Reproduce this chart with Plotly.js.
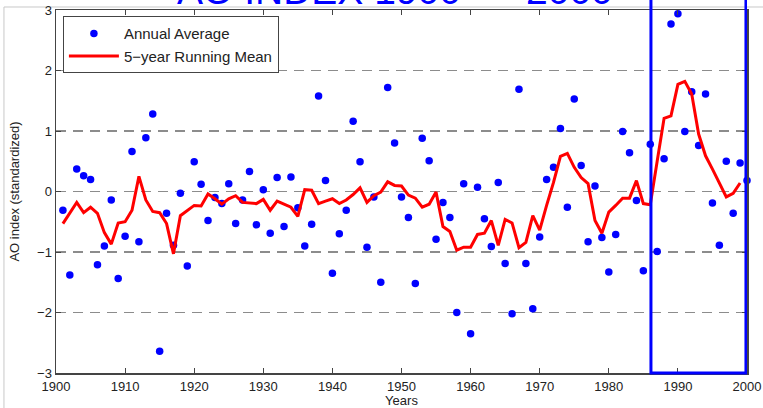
<!DOCTYPE html>
<html><head><meta charset="utf-8">
<script src="https://cdn.plot.ly/plotly-3.0.1.min.js"></script>
<style>html,body{margin:0;padding:0;background:#fff;}#chart{width:763px;height:408px;}</style>
</head><body><div id="chart"></div>
<script>
const years = [1901,1902,1903,1904,1905,1906,1907,1908,1909,1910,
  1911,1912,1913,1914,1915,1916,1917,1918,1919,1920,
  1921,1922,1923,1924,1925,1926,1927,1928,1929,1930,
  1931,1932,1933,1934,1935,1936,1937,1938,1939,1940,
  1941,1942,1943,1944,1945,1946,1947,1948,1949,1950,
  1951,1952,1953,1954,1955,1956,1957,1958,1959,1960,
  1961,1962,1963,1964,1965,1966,1967,1968,1969,1970,
  1971,1972,1973,1974,1975,1976,1977,1978,1979,1980,
  1981,1982,1983,1984,1985,1986,1987,1988,1989,1990,
  1991,1992,1993,1994,1995,1996,1997,1998,1999,2000];
const annualAverage = [-0.31,-1.38,0.37,0.26,0.20,-1.21,-0.90,-0.14,-1.44,-0.74,
  0.66,-0.83,0.89,1.28,-2.64,-0.36,-0.89,-0.03,-1.23,0.49,
  0.12,-0.48,-0.10,-0.20,0.13,-0.53,-0.14,0.33,-0.55,0.03,
  -0.69,0.23,-0.58,0.24,-0.27,-0.90,-0.54,1.58,0.18,-1.35,
  -0.70,-0.31,1.16,0.49,-0.92,-0.09,-1.50,1.72,0.80,-0.09,
  -0.43,-1.52,0.88,0.51,-0.79,-0.18,-0.43,-2.00,0.13,-2.35,
  0.07,-0.45,-0.91,0.15,-1.19,-2.02,1.69,-1.19,-1.94,-0.75,
  0.20,0.40,1.04,-0.26,1.53,0.43,-0.83,0.09,-0.76,-1.33,
  -0.71,0.99,0.64,-0.15,-1.31,0.78,-0.99,0.54,2.77,2.94,
  0.99,1.65,0.76,1.61,-0.19,-0.89,0.50,-0.36,0.47,0.18];
const meanYears = [1901,1902,1903,1904,1905,1906,1907,1908,1909,1910,
  1911,1912,1913,1914,1915,1916,1917,1918,1919,1920,
  1921,1922,1923,1924,1925,1926,1927,1928,1929,1930,
  1931,1932,1933,1934,1935,1936,1937,1938,1939,1940,
  1941,1942,1943,1944,1945,1946,1947,1948,1949,1950,
  1951,1952,1953,1954,1955,1956,1957,1958,1959,1960,
  1961,1962,1963,1964,1965,1966,1967,1968,1969,1970,
  1971,1972,1973,1974,1975,1976,1977,1978,1979,1980,
  1981,1982,1983,1984,1985,1986,1987,1988,1989,1990,
  1991,1992,1993,1994,1995,1996,1997,1998,1999];
const runningMean = [-0.53,-0.35,-0.18,-0.35,-0.26,-0.36,-0.68,-0.87,-0.52,-0.50,
  -0.31,0.25,-0.14,-0.33,-0.35,-0.53,-1.03,-0.40,-0.31,-0.23,
  -0.24,-0.04,-0.12,-0.21,-0.12,-0.07,-0.18,-0.19,-0.20,-0.13,
  -0.31,-0.16,-0.21,-0.26,-0.41,0.03,0.02,-0.20,-0.16,-0.12,
  -0.20,-0.14,-0.05,0.06,-0.18,-0.07,-0.01,0.16,0.10,0.09,
  -0.06,-0.11,-0.26,-0.21,-0.01,-0.58,-0.66,-0.97,-0.92,-0.92,
  -0.71,-0.69,-0.48,-0.89,-0.46,-0.52,-0.93,-0.84,-0.40,-0.64,
  -0.23,0.15,0.58,0.63,0.40,0.23,0.13,-0.48,-0.69,-0.34,
  -0.23,-0.11,-0.11,0.18,-0.20,-0.22,0.50,1.21,1.25,1.77,
  1.82,1.61,0.95,0.59,0.37,0.15,-0.09,-0.03,0.14];
const yTicks = [-3,-2,-1,0,1,2,3];
const xTicks = [1900,1910,1920,1930,1940,1950,1960,1970,1980,1990,2000];
const highlightStart = 1986.1, highlightEnd = 1999.85;

const FONT = 'Liberation Sans, Arial, Helvetica, sans-serif';
const data = [
  {x: years, y: annualAverage, type: 'scatter', mode: 'markers', name: 'Annual Average',
   marker: {color: '#0000ff', size: 7.5}, cliponaxis: false},
  {x: meanYears, y: runningMean, type: 'scatter', mode: 'lines', name: '5\u2212year Running Mean',
   line: {color: '#ff0000', width: 3}}
];
const layout = {
  width: 763, height: 408,
  margin: {l: 56, r: 16, t: 10, b: 35},
  paper_bgcolor: '#fff', plot_bgcolor: '#fff',
  font: {family: FONT, size: 13, color: '#222'},
  showlegend: true,
  legend: {x: 0.01, y: 0.983, xanchor: 'left', yanchor: 'top', bgcolor: '#fff',
    bordercolor: '#444', borderwidth: 1, font: {family: FONT, size: 15, color: '#222'},
    itemwidth: 50, tracegroupgap: 0},
  xaxis: {range: [1900, 2000], tickvals: xTicks, ticks: 'inside', ticklen: 5, tickcolor: '#444',
    showline: true, linecolor: '#444', linewidth: 1.5, mirror: 'ticks', showgrid: false, zeroline: false,
    tickfont: {family: FONT, size: 13, color: '#222'}, ticklabelstandoff: 1,
    title: {text: 'Years', font: {family: FONT, size: 13, color: '#222'}, standoff: 3}},
  yaxis: {range: [-3, 3], tickvals: yTicks, ticks: 'inside', ticklen: 5, tickcolor: '#444',
    showline: true, linecolor: '#444', linewidth: 1.5, mirror: 'ticks',
    showgrid: true, gridcolor: '#8c8c8c', gridwidth: 1.5, griddash: '10px,7px', zeroline: false,
    tickfont: {family: FONT, size: 13, color: '#222'},
    title: {text: 'AO index (standardized)', font: {family: FONT, size: 13, color: '#222'}, standoff: 14}},
  shapes: [
    {type: 'rect', xref: 'paper', yref: 'paper', x0: -0.0753, x1: 1.1, y0: -0.2, y1: 1.0083,
     line: {color: '#c8c8c8', width: 1}, fillcolor: 'rgba(0,0,0,0)', layer: 'below'},
    {type: 'rect', xref: 'x', yref: 'paper', x0: highlightStart, x1: highlightEnd, y0: 0, y1: 1.2,
     line: {color: '#0000ff', width: 3}, fillcolor: 'rgba(0,0,0,0)', layer: 'above'}
  ],
  annotations: [
    {text: 'AO INDEX 1900  \u2013  2000', xref: 'paper', yref: 'paper', x: 0.49, y: 0.99,
     xanchor: 'center', yanchor: 'bottom', showarrow: false,
     font: {family: FONT, size: 39, color: '#0000ff'}}
  ]
};
Plotly.newPlot('chart', data, layout, {displayModeBar: false, staticPlot: true});
</script></body></html>
